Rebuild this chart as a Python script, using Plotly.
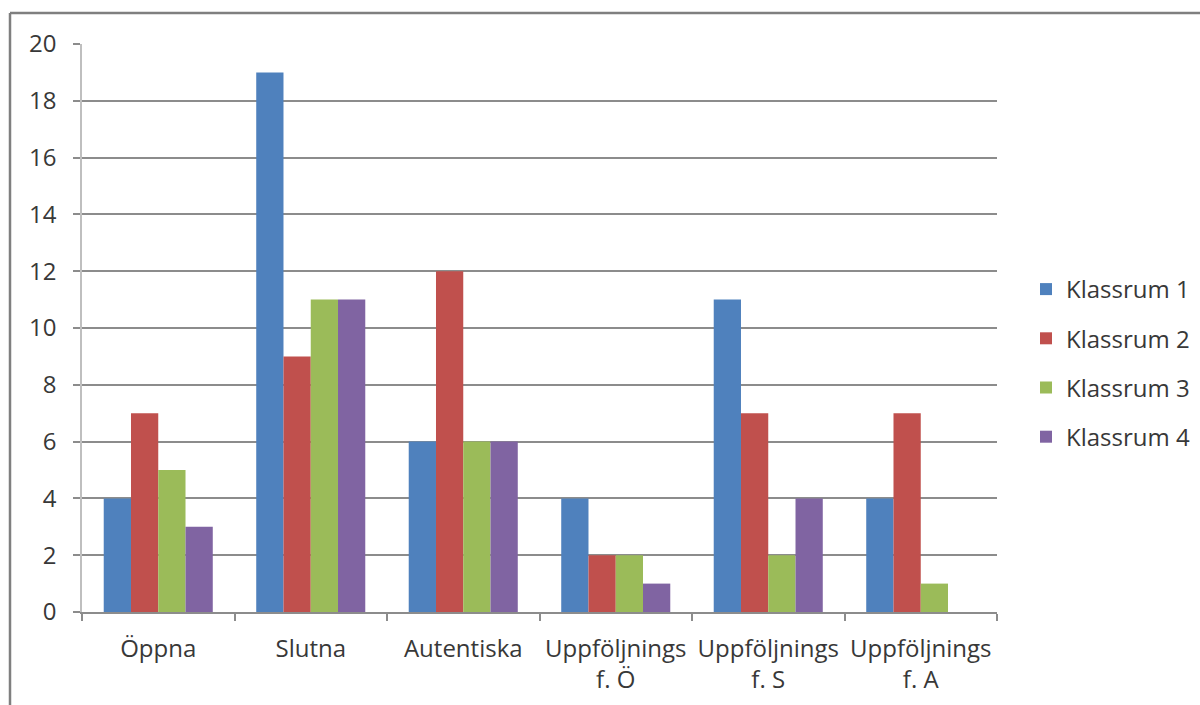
import plotly.graph_objects as go

categories = ["Öppna", "Slutna", "Autentiska", "Uppföljnings<br>f. Ö", "Uppföljnings<br>f. S", "Uppföljnings<br>f. A"]
series_names = ["Klassrum 1", "Klassrum 2", "Klassrum 3", "Klassrum 4"]
klassrum_1 = [4, 19, 6, 4, 11, 4]
klassrum_2 = [7, 9, 12, 2, 7, 7]
klassrum_3 = [5, 11, 6, 2, 2, 1]
klassrum_4 = [3, 11, 6, 1, 4, 0]
y_ticks = [0, 2, 4, 6, 8, 10, 12, 14, 16, 18, 20]

colors = ["#4F81BD", "#C0504D", "#9BBB59", "#8064A2"]
series_values = [klassrum_1, klassrum_2, klassrum_3, klassrum_4]

FONT = "Open Sans"
TEXT = "#383838"
GRID = "#8C8C8C"
FS = 24

fig = go.Figure()
for i, (name, vals) in enumerate(zip(series_names, series_values)):
    fig.add_trace(go.Bar(
        x=categories, y=vals, name=name,
        marker=dict(color=colors[i], line=dict(width=0)),
        legendgroup=name,
    ))

W, H = 1200, 705
L, R, T, B = 82, 203, 44, 93
pw, ph = W - L - R, H - T - B

def px_x(p):
    return (p - L) / pw

def px_y(p):
    return (H - B - p) / ph

fig.update_layout(
    width=W, height=H,
    margin=dict(l=L, r=R, t=T, b=B, autoexpand=False),
    paper_bgcolor="white", plot_bgcolor="white",
    barmode="group", bargap=0.285, bargroupgap=0,
    font=dict(family=FONT, size=FS, color=TEXT),
    showlegend=True,
    legend=dict(
        x=px_x(1026), y=px_y(267), xanchor="left", yanchor="top",
        traceorder="grouped", tracegroupgap=15,
        font=dict(family=FONT, size=FS, color=TEXT),
        bgcolor="rgba(0,0,0,0)",
    ),
    xaxis=dict(
        type="category", showgrid=False,
        showline=True, linecolor=GRID, linewidth=1.5,
        ticks="outside", tickson="boundaries", ticklen=7, tickcolor=GRID, tickwidth=1.5,
        tickfont=dict(family=FONT, size=FS, color=TEXT), ticklabelstandoff=14,
    ),
    yaxis=dict(
        range=[0, 20], tickvals=y_ticks, showgrid=True, gridcolor=GRID, gridwidth=1.5,
        zeroline=False, showline=True, linecolor="#BFBFBF", linewidth=1.5,
        ticks="outside", ticklen=7, tickcolor=GRID, tickwidth=1.5,
        tickfont=dict(family=FONT, size=FS, color=TEXT), ticklabelstandoff=12,
    ),
    shapes=[
        dict(type="line", xref="paper", yref="paper",
             x0=px_x(10), x1=px_x(1200), y0=px_y(13), y1=px_y(13),
             line=dict(color="#7F7F7F", width=2.5)),
        dict(type="line", xref="paper", yref="paper",
             x0=px_x(10), x1=px_x(10), y0=px_y(13), y1=px_y(705),
             line=dict(color="#7F7F7F", width=2.5)),
    ],
)

fig.write_html("out.html")
